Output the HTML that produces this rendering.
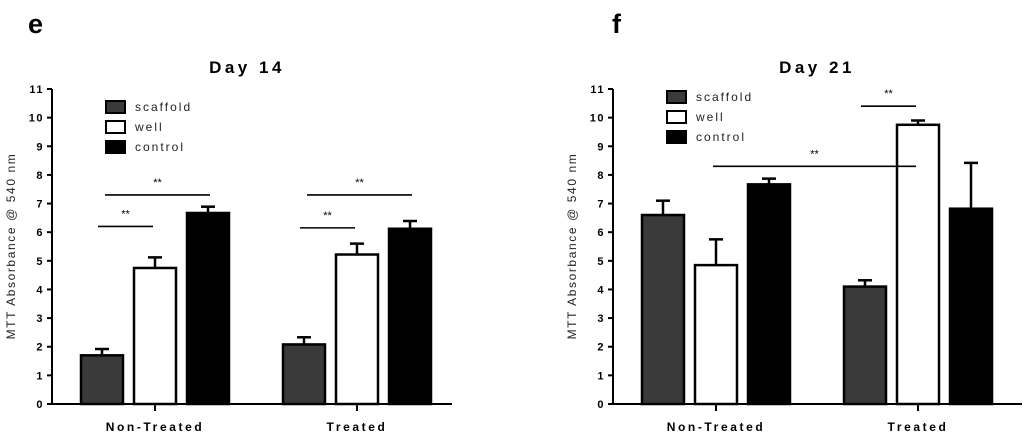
<!DOCTYPE html>
<html><head><meta charset="utf-8"><style>
body{margin:0;background:#fff;width:1024px;height:436px;overflow:hidden}
text{font-family:"Liberation Sans",sans-serif}
</style></head><body>
<svg id="chart" width="1024" height="436" xmlns="http://www.w3.org/2000/svg"></svg>
<script>
const groups=["Non-Treated","Treated"];
const series=["scaffold","well","control"];
const fills=["#3a3a3a","#ffffff","#000000"];
const yTicks=[0,1,2,3,4,5,6,7,8,9,10,11];
const d14Vals=[[1.7,4.75,6.67],[2.08,5.22,6.12]];
const d14Err=[[0.22,0.37,0.22],[0.25,0.38,0.27]];
const d21Vals=[[6.6,4.85,7.67],[4.1,9.75,6.82]];
const d21Err=[[0.5,0.9,0.2],[0.22,0.15,1.6]];
const d14Sig=[[0,0,1,6.2],[0,0,2,7.3],[1,0,1,6.15],[1,0,2,7.3]];
const d21Sig=[[-1,0,1,8.3],[1,0,1,10.4]];
const svg=document.getElementById('chart');
const NS="http://www.w3.org/2000/svg";
function mk(t,a,p){const e=document.createElementNS(NS,t);for(const k in a)e.setAttribute(k,a[k]);(p||svg).appendChild(e);return e;}
function panel(cfg){
  const g=mk('g',{});
  
  
  const y=v=>404-v*(315/11);
  const gx=i=>cfg.ticks[i];
  const bx=(i,j)=>gx(i)+(j-1)*cfg.step;
  const L=mk('text',{x:cfg.letterX,y:33,'font-size':27,'font-weight':'bold'},g);L.textContent=cfg.letter;
  
  const T=mk('text',{x:cfg.titleX,y:73,'font-size':17,'font-weight':'bold','text-anchor':'middle','letter-spacing':'3.5'},g);T.textContent=cfg.title;
  
  const YT=mk('text',{transform:`translate(${cfg.ax-37},246) rotate(-90)`,'font-size':12,'text-anchor':'middle','letter-spacing':'1.6',fill:'#222'},g);YT.textContent='MTT Absorbance @ 540 nm';
  
  mk('line',{x1:cfg.ax,y1:y(11),x2:cfg.ax,y2:y(0),stroke:'#000','stroke-width':2},g);
  mk('line',{x1:cfg.ax,y1:y(0),x2:cfg.axEnd,y2:y(0),stroke:'#000','stroke-width':2},g);
  yTicks.forEach(t=>{
    mk('line',{x1:cfg.ax-5,y1:y(t),x2:cfg.ax,y2:y(t),stroke:'#000','stroke-width':2},g);
    const tl=mk('text',{x:cfg.ax-8,y:y(t)+4,'font-size':11,'font-weight':'bold','text-anchor':'end','letter-spacing':'1.5'},g);tl.textContent=t;
    
  });
  groups.forEach((gn,i)=>{
    mk('line',{x1:gx(i),y1:y(0),x2:gx(i),y2:y(0)+7,stroke:'#000','stroke-width':2},g);
    const xl=mk('text',{x:gx(i),y:431,'font-size':12,'font-weight':'bold','text-anchor':'middle','letter-spacing':'2.6'},g);xl.textContent=gn;
    
    series.forEach((s,j)=>{
      const v=cfg.vals[i][j],e=cfg.err[i][j],cx=bx(i,j),w=42;
      mk('line',{x1:cx,y1:y(v),x2:cx,y2:y(v+e),stroke:'#000','stroke-width':2.5},g);
      mk('line',{x1:cx-7,y1:y(v+e),x2:cx+7,y2:y(v+e),stroke:'#000','stroke-width':2.5},g);
      const r=mk('rect',{x:cx-w/2,y:y(v),width:w,height:y(0)-y(v),fill:fills[j],stroke:'#000','stroke-width':2.5},g);
      
      
    });
  });
  cfg.sig.forEach(s=>{
    let x1,x2;
    if(s[0]<0){x1=gx(0)-3;x2=gx(1)-2;}
    else if(s[2]-s[1]==1){x1=bx(s[0],s[1])-4;x2=bx(s[0],s[2])-2;}
    else{x1=bx(s[0],s[1])+3;x2=bx(s[0],s[2])+2;}
    mk('line',{x1:x1,y1:y(s[3]),x2:x2,y2:y(s[3]),stroke:'#000','stroke-width':1.6},g);
    const st=mk('text',{x:(x1+x2)/2,y:y(s[3])-9,'font-size':11,'text-anchor':'middle'},g);st.textContent='**';
    
  });
  series.forEach((s,j)=>{
    const ly=cfg.legY+j*20;
    mk('rect',{x:cfg.legX,y:ly-6,width:19,height:12,fill:fills[j],stroke:'#000','stroke-width':2},g);
    const lt=mk('text',{x:cfg.legX+29,y:ly+4,'font-size':12,'letter-spacing':'2',fill:'#222'},g);lt.textContent=s;
    
  });
}
panel({name:'day14-chart',letter:'e',letterX:28,title:'Day 14',titleX:247,ax:52,axEnd:452,ticks:[155,357],step:53,vals:d14Vals,err:d14Err,sig:d14Sig,legX:106,legY:107});
panel({name:'day21-chart',letter:'f',letterX:612,title:'Day 21',titleX:817,ax:613,axEnd:1022,ticks:[716,918],step:53,vals:d21Vals,err:d21Err,sig:d21Sig,legX:667,legY:97});
</script>
</body></html>
